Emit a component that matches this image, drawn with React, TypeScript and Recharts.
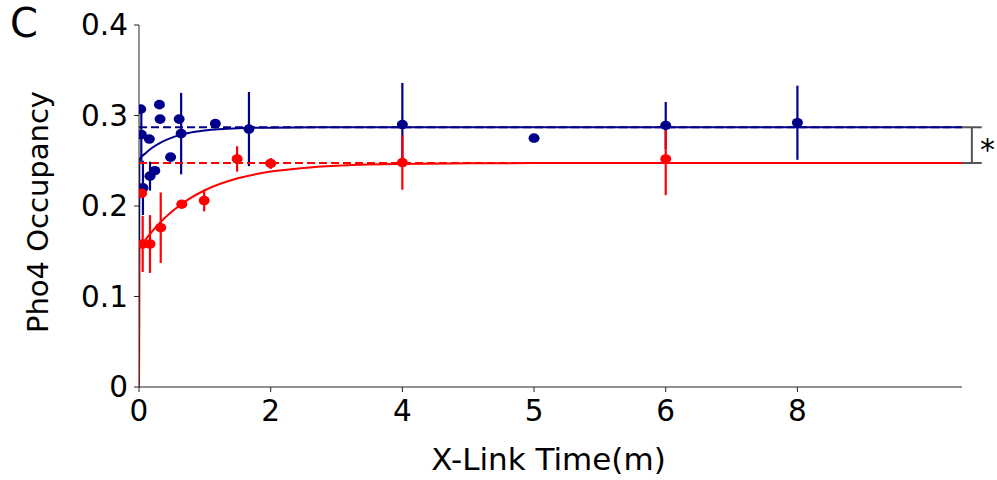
import React from 'react';
import {
  ComposedChart,
  XAxis,
  YAxis,
  Line,
  Scatter,
  ErrorBar,
  ReferenceLine,
} from 'recharts';

// Axis positions used for plotting and the labels printed at them
const xTickPos = [0, 2, 4, 6, 8, 10];
const xTickLabels = ['0', '2', '4', '5', '6', '8'];
const yTicks = [0, 0.1, 0.2, 0.3, 0.4];

// Blue series: measured occupancy (position, value, error)
const blueT = [0.026, 0.035, 0.06, 0.157, 0.167, 0.24, 0.31, 0.32, 0.48, 0.61, 0.64, 1.16, 1.67, 4, 6, 8, 10];
const blueY = [0.307, 0.279, 0.22, 0.274, 0.233, 0.239, 0.312, 0.296, 0.254, 0.296, 0.28, 0.291, 0.285, 0.29, 0.275, 0.289, 0.292];
const blueErr = [0, 0.03, 0.03, 0, 0.016, 0, 0, 0, 0, 0, 0.045, 0, 0.041, 0.046, 0, 0.026, 0.041];

// Red series: measured occupancy (position, value, error)
const redT = [0.04, 0.056, 0.167, 0.33, 0.65, 0.99, 1.49, 2.0, 4, 8];
const redY = [0.214, 0.158, 0.158, 0.176, 0.202, 0.206, 0.252, 0.247, 0.248, 0.252];
const redErr = [0, 0.031, 0.032, 0.039, 0, 0.012, 0.014, 0.006, 0.03, 0.04];

// Fitted curves, sampled
const blueFitT = [0, 0.005, 0.1, 0.2, 0.35, 0.5, 0.75, 1, 1.5, 2, 3, 12.5];
const blueFitY = [0, 0.251, 0.2584, 0.2643, 0.2709, 0.2756, 0.2806, 0.2834, 0.2859, 0.2866, 0.287, 0.287];
const redFitT = [0, 0.005, 0.05, 0.1, 0.2, 0.35, 0.5, 0.75, 1, 1.5, 2, 2.5, 3, 4, 5, 6, 12.5];
const redFitY = [0, 0.153, 0.1578, 0.1628, 0.172, 0.184, 0.194, 0.2074, 0.2174, 0.2306, 0.238, 0.2421, 0.2445, 0.2465, 0.2472, 0.2474, 0.2475];

// Plateau levels
const bluePlateau = 0.287;
const redPlateau = 0.2475;
const xMax = 12.5;

const BLUE = '#00008B';
const RED = '#FF0000';
const FONT = 'DejaVu Sans';

const toPts = (t: number[], y: number[], e?: number[]) =>
  t.map((v, i) => ({ t: v, y: y[i], err: e ? e[i] : 0 }));

const bluePts = toPts(blueT, blueY, blueErr);
const redPts = toPts(redT, redY, redErr);
const blueFit = toPts(blueFitT, blueFitY);
const redFit = toPts(redFitT, redFitY);
const blueFlat = toPts([0, xMax], [bluePlateau, bluePlateau]);
const redFlat = toPts([0, xMax], [redPlateau, redPlateau]);

const dot = (color: string) => (props: any) => (
  <ellipse cx={props.cx} cy={props.cy} rx={5.5} ry={4.8} fill={color} />
);

const yFmt = (v: number) => (v === 0 ? '0' : v.toFixed(1));
const xFmt = (v: number) => xTickLabels[xTickPos.indexOf(v)] ?? String(v);

const xTitle = (p: any) => {
  const vb = p.viewBox || {};
  const cx = (vb.x ?? 0) + (vb.width ?? 0) / 2;
  const top = vb.y ?? 0;
  return (
    <text x={cx - 2} y={top + 83} textAnchor="middle" fontFamily={FONT} fontSize={31} fill="#000">
      X-Link Time(m)
    </text>
  );
};

export default function App() {
  return (
    <div style={{ position: 'absolute', left: 0, top: 0, width: 997, height: 480, background: '#fff' }}>
      <svg width={60} height={60} style={{ position: 'absolute', left: 0, top: 0 }}>
        <text x={10} y={37} fontFamily={FONT} fontSize={40} fill="#000">C</text>
      </svg>
      <ComposedChart
        width={997}
        height={480}
        margin={{ top: 25, right: 35, bottom: 33, left: 0 }}
        style={{ fontFamily: FONT }}
      >
        <XAxis
          type="number"
          dataKey="t"
          domain={[0, xMax]}
          ticks={xTickPos}
          tickFormatter={xFmt}
          allowDataOverflow
          height={60}
          stroke="#222"
          tickSize={5}
          tickMargin={8}
          tick={{ fill: '#000', fontSize: 29.5, fontFamily: FONT }}
          label={xTitle}
        />
        <YAxis
          type="number"
          domain={[0, 0.4]}
          ticks={yTicks}
          tickFormatter={yFmt}
          width={139}
          stroke="#222"
          tickSize={5}
          tickMargin={6}
          tick={{ fill: '#000', fontSize: 29.5, fontFamily: FONT }}
          label={{ value: 'Pho4 Occupancy', angle: -90, position: 'center', dx: -32, dy: 6, fill: '#000', fontSize: 29, fontFamily: FONT }}
        />

        <Line data={blueFlat} dataKey="y" stroke={BLUE} strokeWidth={2} strokeDasharray="8 4" dot={false} isAnimationActive={false} />
        <Line data={blueFit} dataKey="y" type="monotone" stroke={BLUE} strokeWidth={2} dot={false} isAnimationActive={false} />
        <Scatter data={bluePts} dataKey="y" fill={BLUE} shape={dot(BLUE)} isAnimationActive={false}>
          <ErrorBar dataKey="err" direction="y" width={0} stroke={BLUE} strokeWidth={2.2} isAnimationActive={false} />
        </Scatter>

        <Line data={redFlat} dataKey="y" stroke={RED} strokeWidth={2} strokeDasharray="8 4" dot={false} isAnimationActive={false} />
        <Line data={redFit} dataKey="y" type="monotone" stroke={RED} strokeWidth={2} dot={false} isAnimationActive={false} />
        <Scatter data={redPts} dataKey="y" fill={RED} shape={dot(RED)} isAnimationActive={false}>
          <ErrorBar dataKey="err" direction="y" width={0} stroke={RED} strokeWidth={2.2} isAnimationActive={false} />
        </Scatter>

        {/* significance bracket between the two plateaus */}
        <ReferenceLine
          ifOverflow="visible"
          segment={[{ x: 12.5, y: bluePlateau }, { x: 12.8, y: bluePlateau }]}
          stroke="#555"
          strokeWidth={2}
        />
        <ReferenceLine
          ifOverflow="visible"
          segment={[{ x: 12.5, y: redPlateau }, { x: 12.8, y: redPlateau }]}
          stroke="#555"
          strokeWidth={2}
        />
        <ReferenceLine
          ifOverflow="visible"
          segment={[{ x: 12.65, y: bluePlateau }, { x: 12.65, y: redPlateau }]}
          stroke="#555"
          strokeWidth={2}
          label={(p: any) => {
            const vb = p.viewBox || {};
            const cx = (vb.x ?? 0) + (vb.width ?? 0);
            const cy = (vb.y ?? 0) + (vb.height ?? 0) / 2;
            return (
              <text x={cx + 8} y={cy + 15} fontFamily={FONT} fontSize={30} fill="#000">*</text>
            );
          }}
        />
      </ComposedChart>
    </div>
  );
}
